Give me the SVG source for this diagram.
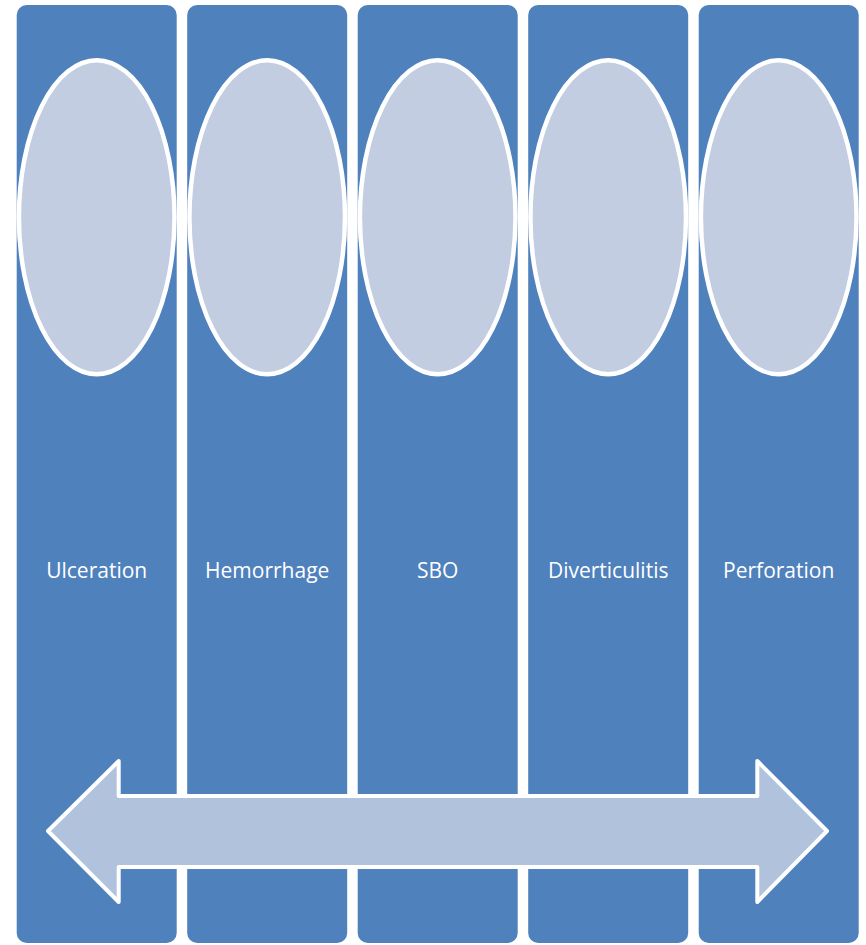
<svg xmlns="http://www.w3.org/2000/svg" width="866" height="945" viewBox="0 0 866 945">
<style>
.col{fill:#4F81BD;}
.ell{fill:#C3CDE1;stroke:#FFFFFF;stroke-width:4.5;}
.lbl{fill:#FFFFFF;font-family:"Open Sans","Liberation Sans",sans-serif;font-size:21px;text-anchor:middle;}
.arrow{fill:#B1C2DD;stroke:#FFFFFF;stroke-width:4;stroke-linejoin:round;}
</style>
<rect width="866" height="945" fill="#FFFFFF"/>
<g id="node-ulceration">
<rect class="col" x="16.7" y="5" width="160" height="938" rx="10"/>
<ellipse class="ell" cx="96.7" cy="217.3" rx="77.8" ry="157"/>
<text class="lbl" x="96.7" y="578">Ulceration</text>
</g>
<g id="node-hemorrhage">
<rect class="col" x="187.2" y="5" width="160" height="938" rx="10"/>
<ellipse class="ell" cx="267.2" cy="217.3" rx="77.8" ry="157"/>
<text class="lbl" x="267.2" y="578">Hemorrhage</text>
</g>
<g id="node-sbo">
<rect class="col" x="357.7" y="5" width="160" height="938" rx="10"/>
<ellipse class="ell" cx="437.7" cy="217.3" rx="77.8" ry="157"/>
<text class="lbl" x="437.7" y="578">SBO</text>
</g>
<g id="node-diverticulitis">
<rect class="col" x="528.2" y="5" width="160" height="938" rx="10"/>
<ellipse class="ell" cx="608.2" cy="217.3" rx="77.8" ry="157"/>
<text class="lbl" x="608.2" y="578">Diverticulitis</text>
</g>
<g id="node-perforation">
<rect class="col" x="698.7" y="5" width="160" height="938" rx="10"/>
<ellipse class="ell" cx="778.7" cy="217.3" rx="77.8" ry="157"/>
<text class="lbl" x="778.7" y="578">Perforation</text>
</g>
<g id="connectors">
<path class="arrow" d="M48,831 L118.7,761 L118.7,796 L757.3,796 L757.3,761 L827,831 L757.3,902 L757.3,867 L118.7,867 L118.7,902 Z"/>
</g>
</svg>
